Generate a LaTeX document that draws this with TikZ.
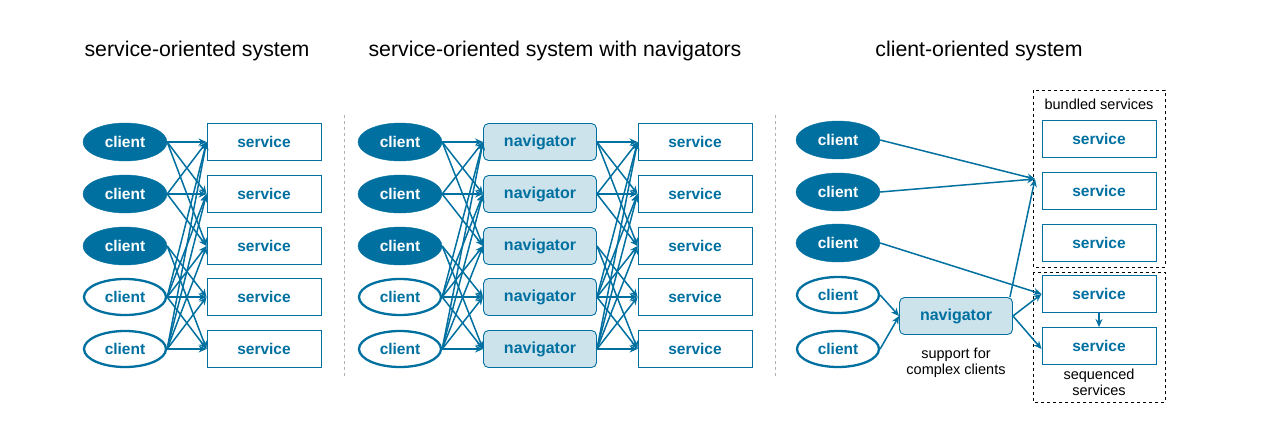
\documentclass[tikz,border=0pt]{standalone}
\usepackage{fontspec}
\setmainfont{Liberation Sans}
\usetikzlibrary{arrows.meta,shapes.geometric}
\definecolor{mblue}{RGB}{0,112,160}
\definecolor{lblue}{RGB}{205,227,236}
\begin{document}
\begin{tikzpicture}[x=1pt,y=-1pt,
  cfill/.style={ellipse,fill=mblue,draw=mblue,minimum width=84pt,minimum height=38pt,inner sep=0pt,text=white,font=\fontsize{15.5}{17}\selectfont\bfseries},
  cline/.style={ellipse,fill=white,draw=mblue,line width=2.3pt,minimum width=82pt,minimum height=36pt,inner sep=0pt,text=mblue,font=\fontsize{15.5}{17}\selectfont\bfseries},
  svc/.style={rectangle,draw=mblue,line width=0.9pt,fill=white,minimum width=114pt,minimum height=37pt,inner sep=0pt,text=mblue,font=\fontsize{15.5}{17}\selectfont\bfseries},
  nav/.style={rectangle,rounded corners=5pt,draw=mblue,line width=0.9pt,fill=lblue,minimum width=113pt,minimum height=37pt,inner sep=0pt,text=mblue,font=\fontsize{16}{17}\selectfont\bfseries},
  arr/.style={draw=mblue,line width=1.5pt,-{Stealth[length=8pt,width=7pt]}},
  ttl/.style={font=\fontsize{21.3}{24}\selectfont,text=black},
  lbl/.style={font=\fontsize{14.5}{16}\selectfont,text=black,align=center},
  sep/.style={draw=black!30,dashed,line width=0.8pt},
  grp/.style={draw=black,dashed,line width=1pt}
]
\useasboundingbox (0,0) rectangle (1280,432);
% titles
\node[ttl] (t1) at (197,50.5) {service-oriented system};
\node[ttl] (t2) at (555,50.5) {service-oriented system with navigators};
\node[ttl] (t3) at (979,50.5) {client-oriented system};
% separators
\coordinate (s1a) at (344,115); \coordinate (s1b) at (344,378);
\coordinate (s2a) at (775,115); \coordinate (s2b) at (775,378);
\draw[sep] (s1a) -- (s1b);
\draw[sep] (s2a) -- (s2b);
% panel 1
\foreach \i/\y in {1/142,2/194,3/246,4/297,5/349}{
  \node[svc] (ps\i) at (264,\y) {service};
}
\foreach \i/\y in {1/142,2/194,3/246}{
  \node[cfill] (pc\i) at (125,\y) {client};
}
\foreach \i/\y in {4/297,5/349}{
  \node[cline] (pc\i) at (125,\y) {client};
}
\foreach \i/\j in {1/1,1/2,1/3,2/1,2/2,2/3,3/4,3/5,4/1,4/2,4/3,4/4,4/5,5/1,5/2,5/3,5/4,5/5}{
  \draw[arr] (pc\i.east) -- (ps\j.west);
}
% panel 2
\foreach \i/\y in {1/142,2/194,3/246,4/297,5/349}{
  \node[nav] (qn\i) at (540,\y) {\raisebox{-1.5pt}{navigator}};
  \node[svc] (qs\i) at (695,\y) {service};
}
\foreach \i/\y in {1/142,2/194,3/246}{
  \node[cfill] (qc\i) at (400,\y) {client};
}
\foreach \i/\y in {4/297,5/349}{
  \node[cline] (qc\i) at (400,\y) {client};
}
\foreach \i/\j in {1/1,1/2,1/3,2/1,2/2,2/3,3/4,3/5,4/1,4/2,4/3,4/4,4/5,5/1,5/2,5/3,5/4,5/5}{
  \draw[arr] (qc\i.east) -- (qn\j.west);
  \draw[arr] (qn\i.east) -- (qs\j.west);
}
% panel 3
\draw[grp] (1033,90) rectangle (1165,267);
\draw[grp] (1033,272) rectangle (1165,402);
\node[lbl] (bl) at (1099,104) {bundled services};
\node[lbl] (sl) at (1099,382) {sequenced\\services};
\node[svc] (rs1) at (1099,139) {service};
\node[svc] (rs2) at (1099,191) {service};
\node[svc] (rs3) at (1099,243) {service};
\node[svc] (rs4) at (1099,294) {service};
\node[svc] (rs5) at (1099,346) {service};
\node[cfill] (rc1) at (838,140) {client};
\node[cfill] (rc2) at (838,192) {client};
\node[cfill] (rc3) at (838,243) {client};
\node[cline] (rc4) at (838,295) {client};
\node[cline] (rc5) at (838,349) {client};
\node[nav] (rn) at (956,316) {\raisebox{-1pt}{navigator}};
\node[lbl] (nl) at (956,363) {support for\\complex clients};
\coordinate (bt) at (1035,179);
\draw[arr] (rc1.east) -- (bt);
\draw[arr] (rc2.east) -- (bt);
\draw[arr] (rn.north east) ++(-3,0) -- (bt);
\draw[arr] (rc3.east) -- (rs4.west);
\draw[arr] (rc4.east) -- (rn.west);
\draw[arr] (rc5.east) -- (rn.west);
\draw[arr] (rn.east) -- (rs4.west);
\draw[arr] (rn.east) -- ([yshift=-3pt]rs5.west);
\draw[arr] (rs4.south) -- (rs5.north);
\end{tikzpicture}
\end{document}
